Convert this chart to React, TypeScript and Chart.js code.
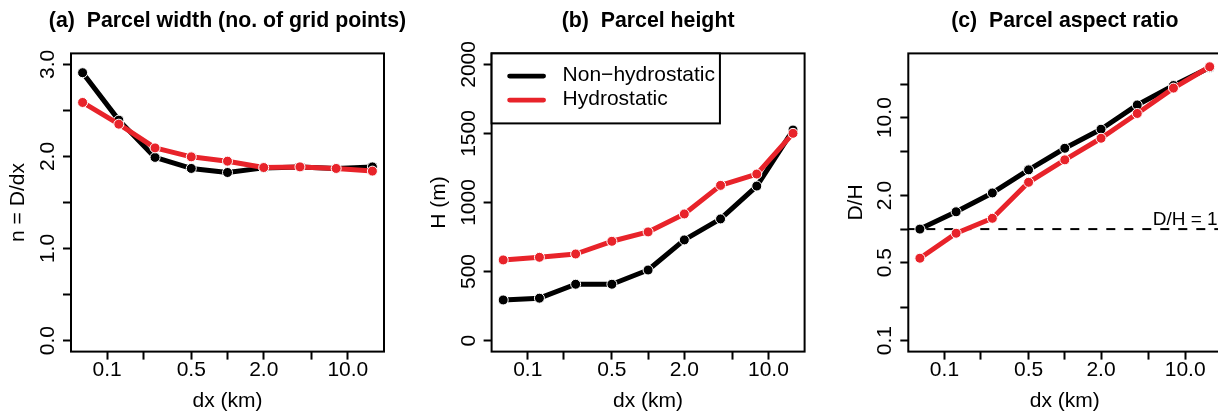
import React, { useEffect, useRef } from "react";
import { Chart, registerables } from "chart.js";

Chart.register(...registerables);

// ---------------- data ----------------
const DX_KM = [0.0625, 0.125, 0.25, 0.5, 1, 2, 4, 8, 16];

const WIDTH_NONHYD = [2.91, 2.395, 1.99, 1.87, 1.826, 1.876, 1.887, 1.87, 1.887];
const WIDTH_HYD = [2.587, 2.351, 2.093, 1.996, 1.949, 1.88, 1.887, 1.87, 1.841];

const HEIGHT_NONHYD = [294, 307, 408, 408, 511, 729, 881, 1119, 1525];
const HEIGHT_HYD = [584, 603, 627, 719, 787, 917, 1124, 1206, 1501];

const ASPECT_NONHYD = [1.0, 1.43, 2.11, 3.4, 5.31, 7.87, 13.0, 19.4, 28.1];
const ASPECT_HYD = [0.548, 0.918, 1.25, 2.63, 4.18, 6.53, 10.9, 18.4, 28.6];

const SERIES_NAMES = ["Non\u2212hydrostatic", "Hydrostatic"];

const X_TICKS = [0.1, 0.2, 0.5, 1, 2, 5, 10];
const X_TICK_LABELS = ["0.1", "", "0.5", "", "2.0", "", "10.0"];
const X_MIN = 0.05006;
const X_MAX = 19.976;

const Y_TICKS_A = [0, 0.5, 1, 1.5, 2, 2.5, 3];
const Y_TICK_LABELS_A = ["0.0", "", "1.0", "", "2.0", "", "3.0"];
const Y_TICKS_B = [0, 500, 1000, 1500, 2000];
const Y_TICK_LABELS_B = ["0", "500", "1000", "1500", "2000"];
const Y_TICKS_C = [0.1, 0.2, 0.5, 1, 2, 5, 10, 20];
const Y_TICK_LABELS_C = ["0.1", "", "0.5", "", "2.0", "", "10.0", ""];

const REF_LINE_C = 1;
const REF_LABEL_C = "D/H = 1";
const REF_LABEL_X = 10;

// ---------------- style ----------------
const FONT = "'Liberation Sans', Arial, Helvetica, sans-serif";
const BLACK = "#000000";
const RED = "#e8232a";
const Y_AXIS_W = 71;
const BOX_W = 313;
const CANVAS_W = 420;
const CANVAS_H = 416;
const AREA_TOP = 53.4;
const X_AXIS_H = 64.4;

type Panel = {
  title: string;
  yTitle: string;
  boxLeft: number;
  yType: "linear" | "logarithmic";
  yMin: number;
  yMax: number;
  yTicks: number[];
  yTickLabels: string[];
  nonhyd: number[];
  hyd: number[];
  legend: boolean;
  refLine?: number;
};

const PANELS: Panel[] = [
  {
    title: "(a)  Parcel width (no. of grid points)",
    yTitle: "n = D/dx",
    boxLeft: 71,
    yType: "linear",
    yMin: -0.12,
    yMax: 3.12,
    yTicks: Y_TICKS_A,
    yTickLabels: Y_TICK_LABELS_A,
    nonhyd: WIDTH_NONHYD,
    hyd: WIDTH_HYD,
    legend: false,
  },
  {
    title: "(b)  Parcel height",
    yTitle: "H (m)",
    boxLeft: 491.6,
    yType: "linear",
    yMin: -80,
    yMax: 2080,
    yTicks: Y_TICKS_B,
    yTickLabels: Y_TICK_LABELS_B,
    nonhyd: HEIGHT_NONHYD,
    hyd: HEIGHT_HYD,
    legend: true,
  },
  {
    title: "(c)  Parcel aspect ratio",
    yTitle: "D/H",
    boxLeft: 908.3,
    yType: "logarithmic",
    yMin: 0.07961,
    yMax: 37.69,
    yTicks: Y_TICKS_C,
    yTickLabels: Y_TICK_LABELS_C,
    nonhyd: ASPECT_NONHYD,
    hyd: ASPECT_HYD,
    legend: false,
    refLine: REF_LINE_C,
  },
];

function decorPlugin(p: Panel) {
  return {
    id: "decor",
    beforeDatasetsDraw(chart: any) {
      if (p.refLine == null) return;
      const { ctx, chartArea: a, scales } = chart;
      const y = scales.y.getPixelForValue(p.refLine);
      ctx.save();
      ctx.strokeStyle = BLACK;
      ctx.lineWidth = 2;
      ctx.setLineDash([9, 9]);
      ctx.beginPath();
      ctx.moveTo(a.left, y);
      ctx.lineTo(a.right, y);
      ctx.stroke();
      ctx.setLineDash([]);
      ctx.font = `19px ${FONT}`;
      ctx.fillStyle = BLACK;
      ctx.textAlign = "center";
      ctx.textBaseline = "alphabetic";
      ctx.fillText(REF_LABEL_C, scales.x.getPixelForValue(REF_LABEL_X), y - 4);
      ctx.restore();
    },
    afterDraw(chart: any) {
      const { ctx, chartArea: a, scales } = chart;
      ctx.save();
      // box
      ctx.strokeStyle = BLACK;
      ctx.lineWidth = 2;
      ctx.strokeRect(a.left, a.top, a.right - a.left, a.bottom - a.top);
      // y tick labels (rotated, R style)
      ctx.fillStyle = BLACK;
      ctx.font = `21px ${FONT}`;
      ctx.textAlign = "center";
      ctx.textBaseline = "alphabetic";
      p.yTicks.forEach((v, i) => {
        const lab = p.yTickLabels[i];
        if (!lab) return;
        const y = scales.y.getPixelForValue(v);
        ctx.save();
        ctx.translate(a.left - 17, y);
        ctx.rotate(-Math.PI / 2);
        ctx.fillText(lab, 0, 0);
        ctx.restore();
      });
      // panel title
      ctx.font = `bold 21.3px ${FONT}`;
      ctx.textAlign = "center";
      ctx.textBaseline = "alphabetic";
      ctx.fillText(p.title, (a.left + a.right) / 2, 27);
      // legend
      if (p.legend) {
        ctx.font = `21px ${FONT}`;
        const items = chart.data.datasets
          .map((d: any) => ({ label: d.label, color: d.borderColor, rank: d.legendRank }))
          .sort((u: any, v: any) => u.rank - v.rank);
        let maxW = 0;
        items.forEach((it: any) => {
          maxW = Math.max(maxW, ctx.measureText(it.label).width);
        });
        const bx = a.left;
        const by = a.top;
        const bw = 71 + maxW + 5;
        const bh = 70;
        ctx.fillStyle = "#ffffff";
        ctx.fillRect(bx, by, bw, bh);
        ctx.strokeStyle = BLACK;
        ctx.lineWidth = 2;
        ctx.strokeRect(bx, by, bw, bh);
        items.forEach((it: any, i: number) => {
          const ly = by + 22.7 + i * 24;
          ctx.strokeStyle = it.color;
          ctx.lineWidth = 4.8;
          ctx.lineCap = "round";
          ctx.beginPath();
          ctx.moveTo(bx + 18, ly);
          ctx.lineTo(bx + 52, ly);
          ctx.stroke();
          ctx.fillStyle = BLACK;
          ctx.textAlign = "left";
          ctx.textBaseline = "middle";
          ctx.fillText(it.label, bx + 71, ly - 0.5);
        });
      }
      ctx.restore();
    },
  };
}

function makeChart(canvas: HTMLCanvasElement, p: Panel, padL: number) {
  const common = {
    borderWidth: 5,
    pointRadius: 5,
    pointHoverRadius: 5,
    pointBorderWidth: 1,
    pointBorderColor: "#ffffff",
    borderJoinStyle: "round",
    borderCapStyle: "round",
    tension: 0,
    fill: false,
  };
  const tickFont = { family: FONT, size: 21 };
  return new Chart(canvas, {
    type: "line",
    data: {
      datasets: [
        {
          ...common,
          label: SERIES_NAMES[0],
          legendRank: 0,
          order: 1,
          data: DX_KM.map((x, i) => ({ x, y: p.nonhyd[i] })),
          borderColor: BLACK,
          backgroundColor: BLACK,
          pointBackgroundColor: BLACK,
        } as any,
        {
          ...common,
          label: SERIES_NAMES[1],
          legendRank: 1,
          order: 0,
          data: DX_KM.map((x, i) => ({ x, y: p.hyd[i] })),
          borderColor: RED,
          backgroundColor: RED,
          pointBackgroundColor: RED,
        } as any,
      ],
    },
    options: {
      animation: false,
      responsive: false,
      maintainAspectRatio: false,
      devicePixelRatio: 1,
      events: [],
      layout: {
        padding: {
          left: padL,
          right: CANVAS_W - padL - Y_AXIS_W - BOX_W,
          top: AREA_TOP,
          bottom: 0,
        },
      },
      plugins: {
        legend: { display: false },
        tooltip: { enabled: false },
        title: { display: false },
      },
      scales: {
        x: {
          type: "logarithmic",
          position: "bottom",
          min: X_MIN,
          max: X_MAX,
          afterBuildTicks: (s: any) => {
            s.ticks = X_TICKS.map((v) => ({ value: v }));
          },
          afterFit: (s: any) => {
            s.height = X_AXIS_H;
          },
          ticks: {
            autoSkip: false,
            maxRotation: 0,
            minRotation: 0,
            padding: -2,
            color: BLACK,
            font: tickFont,
            callback: (_v: any, i: number) => X_TICK_LABELS[i] ?? "",
          },
          grid: {
            display: true,
            drawOnChartArea: false,
            drawTicks: true,
            tickLength: 8,
            tickWidth: 2,
            tickColor: BLACK,
          },
          border: { display: false },
          title: {
            display: true,
            text: "dx (km)",
            color: BLACK,
            font: { family: FONT, size: 21, lineHeight: 1.2 },
            padding: { top: 0, bottom: 2.4 },
          },
        },
        y: {
          type: p.yType,
          position: "left",
          min: p.yMin,
          max: p.yMax,
          afterBuildTicks: (s: any) => {
            s.ticks = p.yTicks.map((v) => ({ value: v }));
          },
          afterFit: (s: any) => {
            s.width = Y_AXIS_W;
          },
          ticks: { display: false, autoSkip: false },
          grid: {
            display: true,
            drawOnChartArea: false,
            drawTicks: true,
            tickLength: 8,
            tickWidth: 2,
            tickColor: BLACK,
          },
          border: { display: false },
          title: {
            display: true,
            text: p.yTitle,
            color: BLACK,
            font: { family: FONT, size: 21, lineHeight: 1.2 },
            padding: { top: 6.1, bottom: 0 },
          },
        },
      },
    } as any,
    plugins: [decorPlugin(p)],
  });
}

export default function App() {
  const r0 = useRef<HTMLCanvasElement>(null);
  const r1 = useRef<HTMLCanvasElement>(null);
  const r2 = useRef<HTMLCanvasElement>(null);
  const refs = [r0, r1, r2];
  const lefts = PANELS.map((p) => Math.floor(p.boxLeft - Y_AXIS_W));

  useEffect(() => {
    const charts = PANELS.map((p, i) => {
      const c = refs[i].current as HTMLCanvasElement;
      const padL = p.boxLeft - Y_AXIS_W - lefts[i];
      return makeChart(c, p, padL);
    });
    return () => charts.forEach((c) => c.destroy());
  }, []);

  return (
    <div
      style={{
        position: "fixed",
        left: 0,
        top: 0,
        width: 1218,
        height: 416,
        overflow: "hidden",
        background: "#ffffff",
      }}
    >
      {PANELS.map((p, i) => (
        <canvas
          key={i}
          ref={refs[i]}
          width={CANVAS_W}
          height={CANVAS_H}
          style={{ position: "absolute", left: lefts[i], top: 0, width: CANVAS_W, height: CANVAS_H }}
        />
      ))}
    </div>
  );
}
